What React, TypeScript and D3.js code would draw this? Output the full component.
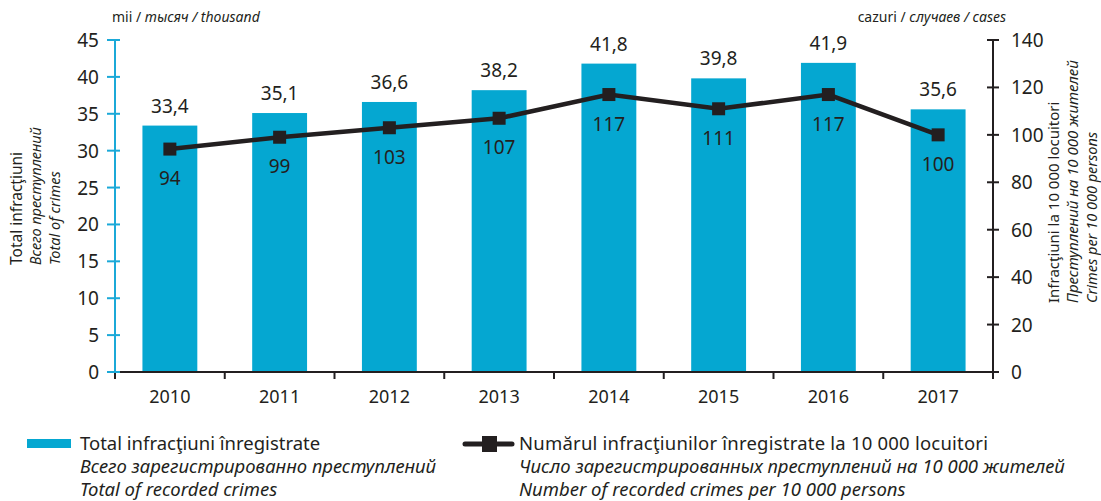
import * as d3 from "d3";

const years = ["2010", "2011", "2012", "2013", "2014", "2015", "2016", "2017"];
const totalCrimes = [33.4, 35.1, 36.6, 38.2, 41.8, 39.8, 41.9, 35.6];
const per10k = [94, 99, 103, 107, 117, 111, 117, 100];
const leftTicks = [0, 5, 10, 15, 20, 25, 30, 35, 40, 45];
const rightTicks = [0, 20, 40, 60, 80, 100, 120, 140];

const W = 1101;
const H = 501;
const FONT = "'Noto Sans', sans-serif";
const DARK = "#231f20";
const CYAN = "#05a7d1";
const AXIS_CYAN = "#1ba9d8";

const fmt = (v: number) => v.toFixed(1).replace(".", ",");

export default function App() {
  const left = 115;
  const right = 993;
  const top = 40;
  const bottom = 372;

  const x = d3.scaleBand<string>().domain(years).range([left, right]).paddingInner(0.5).paddingOuter(0.25);
  const step = x.step();
  const yL = d3.scaleLinear().domain([0, 45]).range([bottom, top]);
  const yR = d3.scaleLinear().domain([0, 140]).range([bottom, top]);

  const pts = years.map((yr, i) => [x(yr)! + x.bandwidth() / 2, yR(per10k[i])] as [number, number]);
  const linePath = d3.line()(pts) || "";

  return (
    <svg width={W} height={H} style={{ position: "absolute", left: 0, top: 0, background: "#fff" }} fontFamily={FONT}>
      {/* bars */}
      {years.map((yr, i) => (
        <rect key={yr} x={x(yr)} y={yL(totalCrimes[i])} width={x.bandwidth()} height={bottom - yL(totalCrimes[i])} fill={CYAN} />
      ))}
      {years.map((yr, i) => (
        <text key={"bl" + yr} x={x(yr)! + x.bandwidth() / 2} y={yL(totalCrimes[i]) - 13} textAnchor="middle" fontSize={19} fill={DARK}>
          {fmt(totalCrimes[i])}
        </text>
      ))}

      {/* x axis */}
      <line x1={left} x2={right} y1={bottom} y2={bottom} stroke={DARK} strokeWidth={2} />
      {d3.range(years.length + 1).map((k) => (
        <line key={"xt" + k} x1={left + k * step} x2={left + k * step} y1={bottom} y2={bottom + 7} stroke={DARK} strokeWidth={2} />
      ))}
      {years.map((yr) => (
        <text key={"xl" + yr} x={x(yr)! + x.bandwidth() / 2} y={bottom + 31} textAnchor="middle" fontSize={18} fill={DARK}>
          {yr}
        </text>
      ))}

      {/* left axis */}
      <line x1={left} x2={left} y1={top} y2={bottom} stroke={AXIS_CYAN} strokeWidth={2} />
      {leftTicks.map((t) => (
        <g key={"lt" + t}>
          <line x1={left - 8} x2={left + 5} y1={yL(t)} y2={yL(t)} stroke={AXIS_CYAN} strokeWidth={2} />
          <text x={left - 16} y={yL(t) + 7} textAnchor="end" fontSize={19} fill={DARK}>{t}</text>
        </g>
      ))}

      {/* right axis */}
      <line x1={right} x2={right} y1={top} y2={bottom} stroke={DARK} strokeWidth={2} />
      {rightTicks.map((t) => (
        <g key={"rt" + t}>
          <line x1={right - 6} x2={right + 6} y1={yR(t)} y2={yR(t)} stroke={DARK} strokeWidth={2} />
          <text x={right + 18} y={yR(t) + 7} textAnchor="start" fontSize={19} fill={DARK}>{t}</text>
        </g>
      ))}

      {/* line series */}
      <path d={linePath} fill="none" stroke={DARK} strokeWidth={4.5} />
      {pts.map(([px, py], i) => (
        <g key={"m" + i}>
          <rect x={px - 6.5} y={py - 6.5} width={13} height={13} fill={DARK} />
          <text x={px} y={py + 36} textAnchor="middle" fontSize={19} fill={DARK}>{per10k[i]}</text>
        </g>
      ))}

      {/* unit labels */}
      <text x={112} y={22} fontSize={14} fill={DARK}>
        mii / <tspan fontStyle="italic">тысяч / thousand</tspan>
      </text>
      <text x={1006} y={22} fontSize={14} fill={DARK} textAnchor="end">
        cazuri / <tspan fontStyle="italic">случаев / cases</tspan>
      </text>

      {/* left axis title */}
      <g transform="translate(22,265) rotate(-90)" fontSize={14.5} fill={DARK}>
        <text x={0} y={0} fontSize={15.5}>Total infracţiuni</text>
        <text x={0} y={19} fontStyle="italic">Всего преступлений</text>
        <text x={0} y={38} fontStyle="italic">Total of crimes</text>
      </g>

      {/* right axis title */}
      <g transform="translate(1059,303) rotate(-90)" fontSize={15} fill={DARK}>
        <text x={0} y={0}>Infracţiuni la 10 000 locuitori</text>
        <text x={0} y={19} fontStyle="italic">Преступлений на 10 000 жителей</text>
        <text x={0} y={38} fontStyle="italic" fontSize={14.5}>Crimes per 10 000 persons</text>
      </g>

      {/* legend */}
      <rect x={27} y={439} width={44} height={9} fill={CYAN} />
      <g fontSize={18.5} fill={DARK}>
        <text x={80} y={450}>Total infracţiuni înregistrate</text>
        <text x={80} y={473} fontStyle="italic">Всего зарегистрированно преступлений</text>
        <text x={80} y={496} fontStyle="italic">Total of recorded crimes</text>
      </g>
      <line x1={465} x2={512} y1={444} y2={444} stroke={DARK} strokeWidth={5} strokeLinecap="round" />
      <rect x={482} y={436} width={15} height={16} fill={DARK} />
      <g fontSize={18.5} fill={DARK}>
        <text x={519} y={450} textLength={469} lengthAdjust="spacing">Numărul infracţiunilor înregistrate la 10 000 locuitori</text>
        <text x={519} y={473} fontStyle="italic">Число зарегистрированных преступлений на 10 000 жителей</text>
        <text x={519} y={496} fontStyle="italic">Number of recorded crimes per 10 000 persons</text>
      </g>
    </svg>
  );
}
